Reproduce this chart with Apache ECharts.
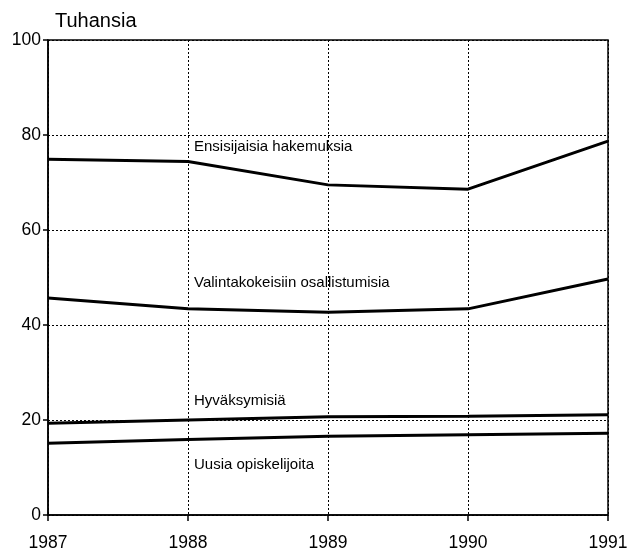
<!DOCTYPE html>
<html>
<head>
<meta charset="utf-8">
<script src="https://cdn.jsdelivr.net/npm/echarts@6/dist/echarts.min.js"></script>
<style>
    html, body { margin: 0; padding: 0; background: #fff; }
    #chart { width: 638px; height: 557px; }
</style>
</head>
<body>
<div id="chart"></div>
<script>
    // vuodet ja sarjat (tuhansia)
    var years = ['1987', '1988', '1989', '1990', '1991'];
    var ensisijaisia = [74.9, 74.4, 69.5, 68.6, 78.7];
    var valintakokeisiin = [45.7, 43.4, 42.7, 43.4, 49.7];
    var hyvaksymisia = [19.3, 20.0, 20.7, 20.8, 21.1];
    var uusia = [15.1, 15.9, 16.6, 16.9, 17.2];
    var seriesNames = ['Ensisijaisia hakemuksia', 'Valintakokeisiin osallistumisia', 'Hyväksymisiä', 'Uusia opiskelijoita'];
    // tekstien paikat: [vuosi-indeksi, arvo]
    var labelAt = [[1, 77.5], [1, 48.8], [1, 24.0], [1, 10.5]];
    var yTicks = [0, 20, 40, 60, 80, 100];

    var font = '"Liberation Sans", Arial, sans-serif';
    var chart = echarts.init(document.getElementById('chart'));

    function lineSeries(name, data, pos) {
        return {
            name: name,
            type: 'line',
            data: data,
            symbol: 'none',
            silent: true,
            lineStyle: { color: '#000', width: 3 },
            markPoint: {
                symbol: 'circle',
                symbolSize: 0,
                data: [{ coord: pos, value: name }],
                label: {
                    show: true,
                    position: 'right',
                    distance: 6,
                    formatter: name,
                    color: '#000',
                    fontFamily: font,
                    fontSize: 15
                }
            }
        };
    }

    chart.setOption({
        animation: false,
        title: {
            text: 'Tuhansia',
            left: 50,
            top: 6,
            textStyle: { fontFamily: font, fontSize: 20, fontWeight: 'normal', color: '#000' }
        },
        grid: {
            left: 48, right: 30, top: 40, bottom: 42,
            show: true, borderColor: '#000', borderWidth: 1.5
        },
        xAxis: {
            type: 'category',
            boundaryGap: false,
            data: years,
            axisLine: { lineStyle: { color: '#000', width: 1.5 } },
            axisTick: { show: true, length: 6, lineStyle: { color: '#000', width: 1.5 } },
            axisLabel: { color: '#000', fontFamily: font, fontSize: 17.5, margin: 19 },
            splitLine: { show: true, lineStyle: { color: '#000', type: [2, 2], width: 1 } }
        },
        yAxis: {
            type: 'value',
            min: yTicks[0],
            max: yTicks[yTicks.length - 1],
            interval: 20,
            axisLine: { show: true, lineStyle: { color: '#000', width: 1.5 } },
            axisTick: { show: true, length: 5, lineStyle: { color: '#000', width: 1.5 } },
            axisLabel: { color: '#000', fontFamily: font, fontSize: 17.5, margin: 7 },
            splitLine: { show: true, lineStyle: { color: '#000', type: [2, 2], width: 1 } }
        },
        series: [
            lineSeries(seriesNames[0], ensisijaisia, labelAt[0]),
            lineSeries(seriesNames[1], valintakokeisiin, labelAt[1]),
            lineSeries(seriesNames[2], hyvaksymisia, labelAt[2]),
            lineSeries(seriesNames[3], uusia, labelAt[3])
        ]
    });
</script>
</body>
</html>
